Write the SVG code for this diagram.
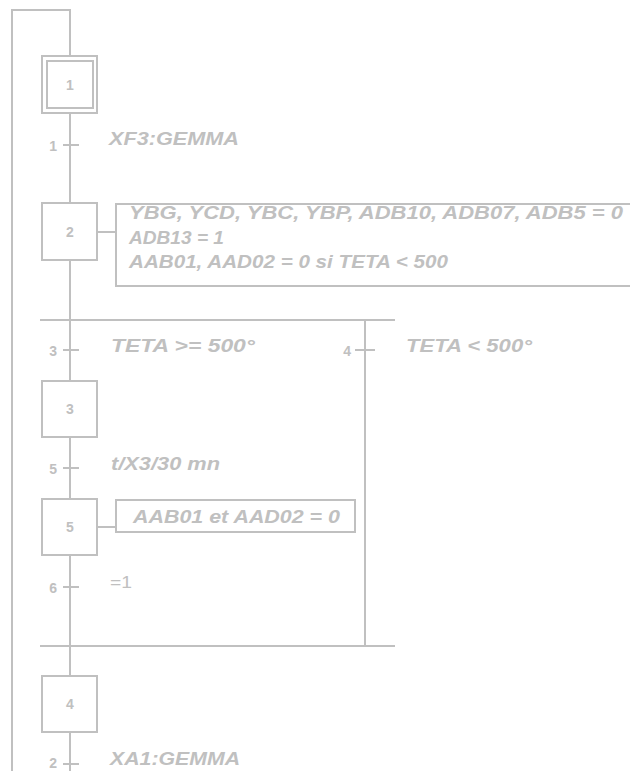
<svg xmlns="http://www.w3.org/2000/svg" width="630" height="771" viewBox="0 0 630 771" xml:space="preserve">
<style>
.ln{stroke:#c0c0c0;stroke-width:2;fill:none}
.box{stroke:#c0c0c0;stroke-width:2;fill:#fff}
.num{font-family:"Liberation Sans",Arial,sans-serif;font-weight:bold;font-size:14px;fill:#c0c0c0}
.lbl{font-family:"Liberation Sans",Arial,sans-serif;font-weight:bold;font-size:14px;fill:#c0c0c0;text-anchor:end}
.it{font-family:"Liberation Sans",Arial,sans-serif;font-weight:bold;font-style:italic;font-size:19px;fill:#c0c0c0}
.pl{font-family:"Liberation Sans",Arial,sans-serif;font-size:17px;fill:#c0c0c0}
</style>
<rect width="630" height="771" fill="#fff"/>
<g id="connectors">
<path class="ln" d="M12,771 V10 H70 V56"/>
<path class="ln" d="M70,113 V203"/>
<path class="ln" d="M70,260 V381"/>
<path class="ln" d="M70,437 V499"/>
<path class="ln" d="M70,555 V676"/>
<path class="ln" d="M70,732 V771"/>
<path class="ln" d="M40,320 H395 M40,646 H395 M365,320 V646"/>
<path class="ln" d="M97,232 H116 M97,527 H116"/>
</g>
<g id="t1"><path class="ln" d="M63,145 H79"/><text class="lbl" x="57" y="151">1</text><text class="it" x="109" y="145" textLength="130" lengthAdjust="spacingAndGlyphs">XF3:GEMMA</text></g>
<g id="t3"><path class="ln" d="M63,350 H79"/><text class="lbl" x="57" y="356">3</text><text class="it" x="111" y="352" textLength="144" lengthAdjust="spacingAndGlyphs">TETA &gt;=  500°</text></g>
<g id="t4"><path class="ln" d="M355,350 H375"/><text class="lbl" x="351" y="356">4</text><text class="it" x="406" y="352" textLength="126" lengthAdjust="spacingAndGlyphs">TETA &lt; 500°</text></g>
<g id="t5"><path class="ln" d="M63,468 H79"/><text class="lbl" x="57" y="474">5</text><text class="it" x="111" y="470" textLength="109" lengthAdjust="spacingAndGlyphs">t/X3/30 mn</text></g>
<g id="t6"><path class="ln" d="M63,587 H79"/><text class="lbl" x="57" y="593">6</text><text class="pl" x="110" y="588" textLength="22" lengthAdjust="spacingAndGlyphs">=1</text></g>
<g id="t2"><path class="ln" d="M63,764 H79"/><text class="lbl" x="57" y="768">2</text><text class="it" x="110" y="765" textLength="130" lengthAdjust="spacingAndGlyphs">XA1:GEMMA</text></g>
<g id="step1"><rect class="box" x="42" y="56" width="55" height="57"/><rect class="ln" x="47" y="61" width="46" height="47"/><text class="num" x="70" y="90" text-anchor="middle">1</text></g>
<g id="step2"><rect class="box" x="42" y="203" width="55" height="57"/><text class="num" x="70" y="237" text-anchor="middle">2</text></g>
<g id="action2"><rect class="box" x="116" y="204" width="530" height="82"/>
<text class="it" x="129" y="219" textLength="494" lengthAdjust="spacingAndGlyphs">YBG, YCD, YBC, YBP, ADB10, ADB07, ADB5  = 0</text>
<text class="it" x="129" y="243.5" textLength="95" lengthAdjust="spacingAndGlyphs">ADB13 = 1</text>
<text class="it" x="129" y="268" textLength="319" lengthAdjust="spacingAndGlyphs">AAB01,  AAD02 = 0 si TETA &lt; 500</text></g>
<g id="step3"><rect class="box" x="42" y="381" width="55" height="56"/><text class="num" x="70" y="414" text-anchor="middle">3</text></g>
<g id="step5"><rect class="box" x="42" y="499" width="55" height="56"/><text class="num" x="70" y="532" text-anchor="middle">5</text></g>
<g id="action5"><rect class="box" x="116" y="500" width="239" height="32"/><text class="it" x="133" y="522.5" textLength="207" lengthAdjust="spacingAndGlyphs">AAB01 et AAD02 = 0</text></g>
<g id="step4"><rect class="box" x="42" y="676" width="55" height="56"/><text class="num" x="70" y="709" text-anchor="middle">4</text></g>
</svg>
